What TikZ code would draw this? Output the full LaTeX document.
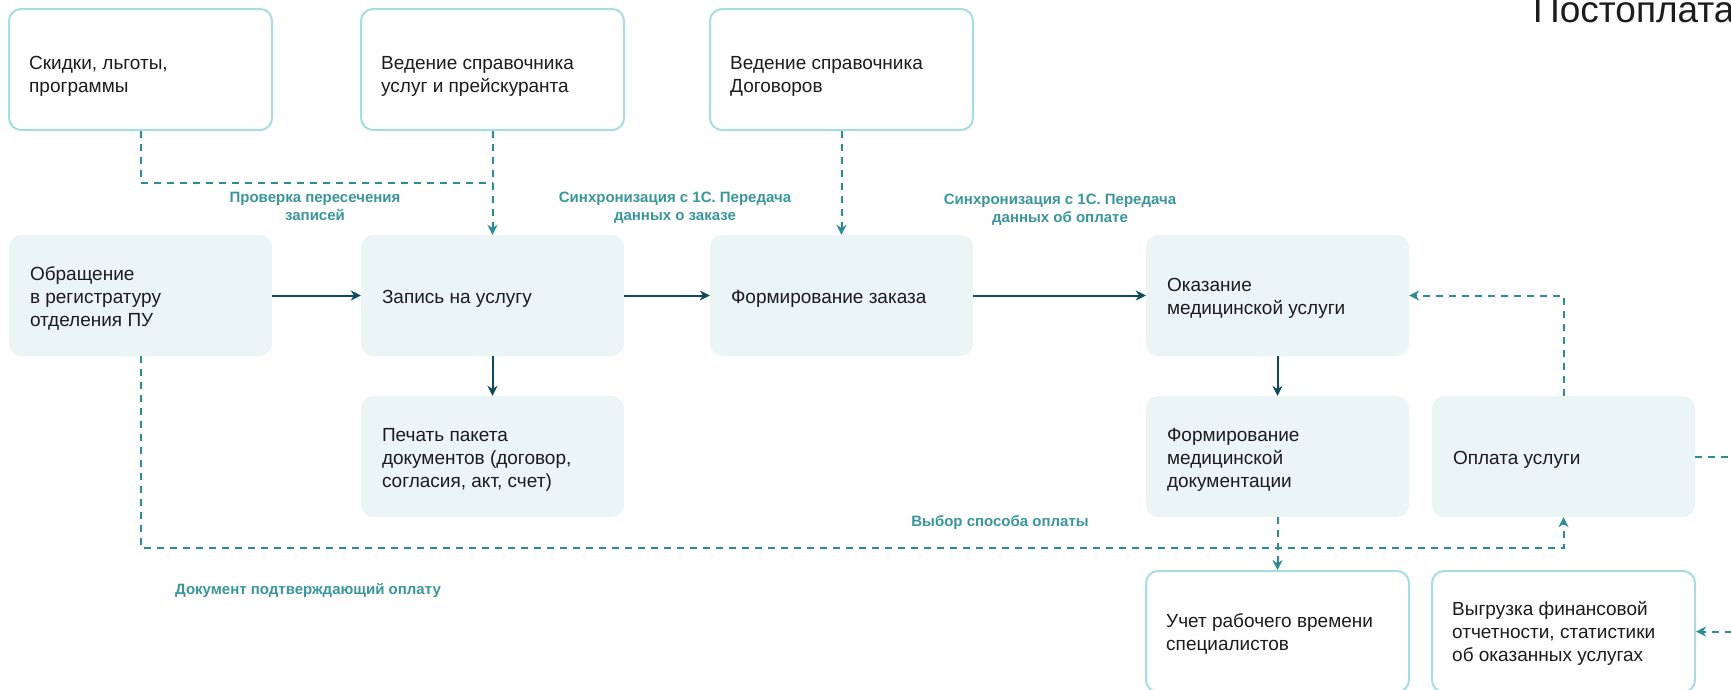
\documentclass[tikz,border=0pt]{standalone}
\usepackage{fontspec}
\setmainfont{Liberation Sans}
\usetikzlibrary{arrows.meta}
\definecolor{boxfill}{HTML}{EBF5F6}
\definecolor{boxline}{HTML}{A6DCE3}
\definecolor{dashc}{HTML}{2B8C95}
\definecolor{labc}{HTML}{3A959D}
\definecolor{solidc}{HTML}{0F4A5C}
\definecolor{txt}{HTML}{1C1C1C}
\begin{document}
\begin{tikzpicture}[x=1pt,y=-1pt,
  basebox/.style={rounded corners=12pt, minimum width=263pt, minimum height=121pt, inner sep=0pt},
  fbox/.style={basebox, fill=boxfill},
  obox/.style={basebox, draw=boxline, line width=2pt, fill=white},
  btext/.style={anchor=west, align=left, inner sep=0pt,
    font=\fontsize{19}{23}\selectfont, text=txt},
  lab/.style={align=center, font=\bfseries\fontsize{15}{18}\selectfont, text=labc, inner sep=0pt},
  flow/.style={draw=solidc, line width=2pt, -{Stealth[length=10pt,width=10pt]}},
  dline/.style={draw=dashc, line width=2pt, dash pattern=on 7pt off 6pt},
  dflow/.style={dline, -{Stealth[length=10pt,width=10pt]}},
]
\useasboundingbox (0,0) rectangle (1731,689);
\clip (0,0) rectangle (1731,689);

% top row (outlined)
\node[obox] (b1) at (140.5,69.5) {};
\node[obox] (b2) at (492.5,69.5) {};
\node[obox] (b3) at (841.5,69.5) {};
% main row
\node[fbox] (c1) at (140.5,295.5) {};
\node[fbox] (c2) at (492.5,295.5) {};
\node[fbox] (c3) at (841.5,295.5) {};
\node[fbox] (c4) at (1277.5,295.5) {};
% third row
\node[fbox] (d2) at (492.5,456.5) {};
\node[fbox] (d4) at (1277.5,456.5) {};
\node[fbox] (d5) at (1563.5,456.5) {};
% bottom row (outlined)
\node[obox] (e4) at (1277.5,631.5) {};
\node[obox] (e5) at (1563.5,631.5) {};

% box texts
\node[btext, xshift=21pt, yshift=-7pt] (b1t) at (b1.west) {Скидки, льготы,\\программы};
\node[btext, xshift=21pt, yshift=-7pt] (b2t) at (b2.west) {Ведение справочника\\услуг и прейскуранта};
\node[btext, xshift=21pt, yshift=-7pt] (b3t) at (b3.west) {Ведение справочника\\Договоров};
\node[btext, xshift=21pt, yshift=-3pt] (c1t) at (c1.west) {Обращение\\в регистратуру\\отделения ПУ};
\node[btext, xshift=21pt, yshift=-3pt] (c2t) at (c2.west) {Запись на услугу};
\node[btext, xshift=21pt, yshift=-3pt] (c3t) at (c3.west) {Формирование заказа};
\node[btext, xshift=21pt, yshift=-3pt] (c4t) at (c4.west) {Оказание\\медицинской услуги};
\node[btext, xshift=21pt, yshift=-3pt] (d2t) at (d2.west) {Печать пакета\\документов (договор,\\согласия, акт, счет)};
\node[btext, xshift=21pt, yshift=-3pt] (d4t) at (d4.west) {Формирование\\медицинской\\документации};
\node[btext, xshift=21pt, yshift=-3pt] (d5t) at (d5.west) {Оплата услуги};
\node[btext, xshift=21pt, yshift=-2pt] (e4t) at (e4.west) {Учет рабочего времени\\специалистов};
\node[btext, xshift=21pt, yshift=-2pt] (e5t) at (e5.west) {Выгрузка финансовой\\отчетности, статистики\\об оказанных услугах};

% title
\node[anchor=base west, font=\fontsize{37}{42}\selectfont, text=txt, inner sep=0pt] (t) at (1533,22) {Постоплата};

% coordinates
\coordinate (j1) at (492.5,183);
\coordinate (j2) at (140.5,548);
\coordinate (j3) at (1563.5,548);
\coordinate (j4) at (1563.5,295.5);
\coordinate (r1) at (1745,456.5);
\coordinate (r2) at (1745,631.5);

% solid flow
\draw[flow] (c1.east) -- (c2.west);
\draw[flow] (c2.east) -- (c3.west);
\draw[flow] (c3.east) -- (c4.west);
\draw[flow] (c2.south) -- (d2.north);
\draw[flow] (c4.south) -- (d4.north);

% dashed
\draw[dline] (b1.south) |- (j1);
\draw[dflow] (b2.south) -- (c2.north);
\draw[dflow] (b3.south) -- (c3.north);
\draw[dflow] (c1.south) -- (j2) -- (j3) -- (d5.south);
\draw[dflow] (d4.south) -- (e4.north);
\draw[dflow] (d5.north) -- (j4) -- (c4.east);
\draw[dline] (d5.east) -- (r1);
\draw[dflow] (r2) -- (e5.east);

% labels
\node[lab] (l1) at (315,206) {Проверка пересечения\\записей};
\node[lab] (l2) at (675,208) {Синхронизация с 1С. Передача\\данных о заказе};
\node[lab] (l3) at (1060,210) {Синхронизация с 1С. Передача\\данных об оплате};
\node[lab] (l4) at (1000,523) {Выбор способа оплаты};
\node[lab] (l5) at (308,590) {Документ подтверждающий оплату};
\end{tikzpicture}
\end{document}
